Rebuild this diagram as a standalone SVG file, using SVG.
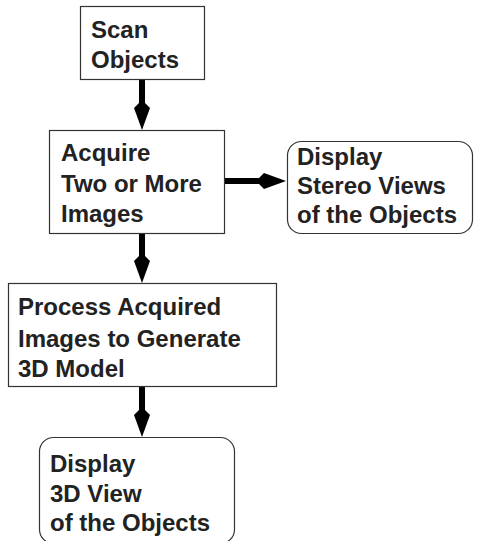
<svg xmlns="http://www.w3.org/2000/svg" width="477" height="541" viewBox="0 0 477 541">
<style>
.box{fill:#fff;stroke:#333;stroke-width:1.2}
.lbl{font-family:"Liberation Sans",Arial,sans-serif;font-weight:bold;font-size:24px;fill:#222}
.con{stroke:#000;stroke-width:6;fill:none}
</style>
<defs>
<marker id="dia" viewBox="0 -8 30 16" refX="8" refY="0" markerWidth="30" markerHeight="16" markerUnits="userSpaceOnUse" orient="auto">
<polygon points="0,0 8,-8 30,0 8,8" fill="#000"/>
</marker>
</defs>
<rect width="477" height="541" fill="#fff"/>
<g id="connectors">
<line class="con" x1="142" y1="79" x2="142" y2="108" marker-end="url(#dia)"/>
<line class="con" x1="142" y1="233" x2="142" y2="261" marker-end="url(#dia)"/>
<line class="con" x1="142" y1="387" x2="142" y2="415" marker-end="url(#dia)"/>
<line class="con" x1="224" y1="181" x2="264" y2="181" marker-end="url(#dia)"/>
</g>
<g id="scan">
<rect class="box" x="80.5" y="6.5" width="124" height="73"/>
<text class="lbl" x="91" y="38">Scan</text>
<text class="lbl" x="91" y="68">Objects</text>
</g>
<g id="acquire">
<rect class="box" x="49.5" y="130.5" width="175" height="103"/>
<text class="lbl" x="61" y="161">Acquire</text>
<text class="lbl" x="61" y="192">Two or More</text>
<text class="lbl" x="61" y="222">Images</text>
</g>
<g id="stereo">
<rect class="box" x="287.5" y="141.5" width="185" height="92" rx="14"/>
<text class="lbl" x="297" y="165">Display</text>
<text class="lbl" x="297" y="194">Stereo Views</text>
<text class="lbl" x="297" y="223">of the Objects</text>
</g>
<g id="process">
<rect class="box" x="8.5" y="283.5" width="268" height="103"/>
<text class="lbl" x="18" y="315">Process Acquired</text>
<text class="lbl" x="18" y="347">Images to Generate</text>
<text class="lbl" x="18" y="377">3D Model</text>
</g>
<g id="display3d">
<rect class="box" x="39.5" y="437.5" width="195" height="106" rx="14"/>
<text class="lbl" x="50" y="472">Display</text>
<text class="lbl" x="50" y="502">3D View</text>
<text class="lbl" x="50" y="531">of the Objects</text>
</g>
</svg>
